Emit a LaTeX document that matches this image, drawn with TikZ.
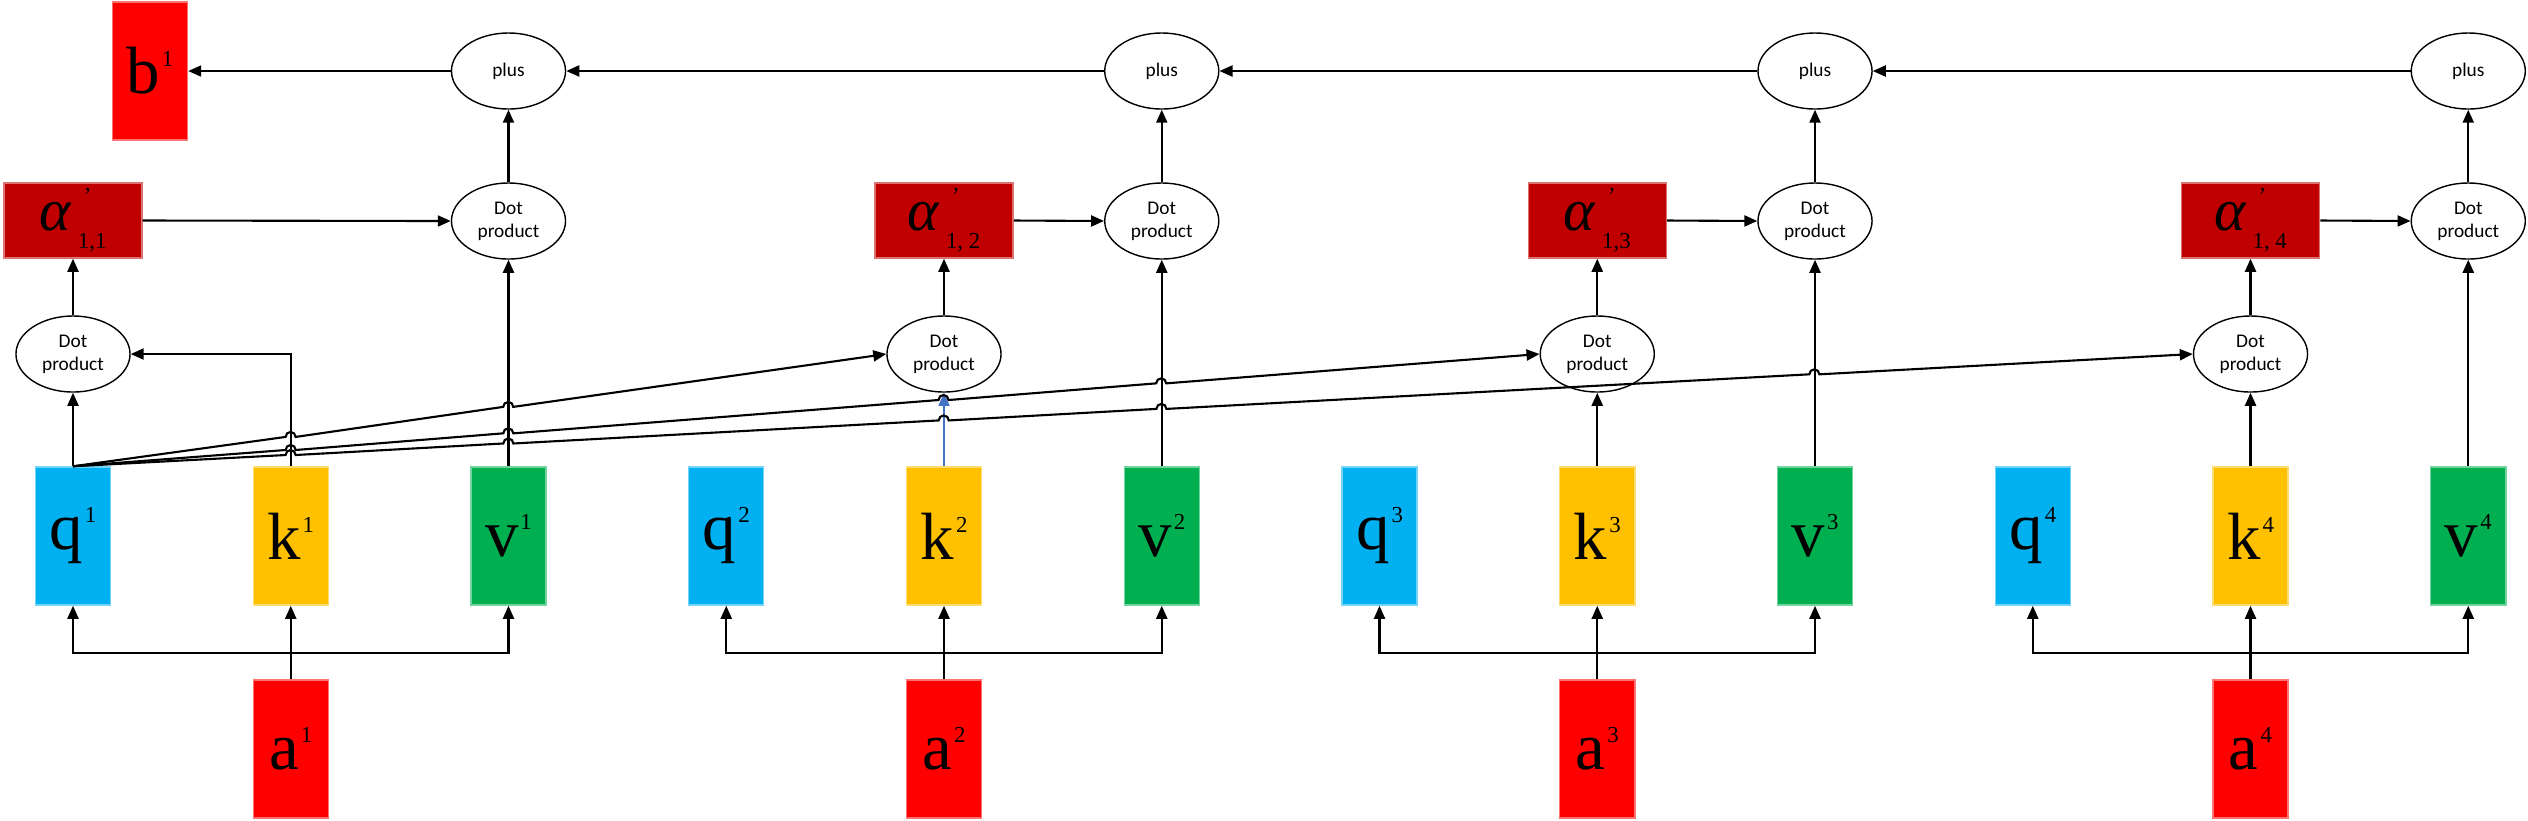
\documentclass[tikz,border=0pt]{standalone}
\usepackage{fontspec}
\setmainfont{Liberation Serif}
\newfontfamily\calfont{Carlito}
\usepackage{tikz}
\usetikzlibrary{shapes,arrows.meta,calc}
\definecolor{qblue}{HTML}{00B0F0}
\definecolor{kyellow}{HTML}{FFC000}
\definecolor{vgreen}{HTML}{00B050}
\definecolor{ared}{HTML}{FF0000}
\definecolor{alred}{HTML}{C00000}
\definecolor{kline}{HTML}{4472C4}
\newcommand{\bigfont}{\fontsize{19}{19}\selectfont}
\newcommand{\supfont}{\fontsize{6.5}{6.5}\selectfont}
\newcommand{\alfont}{\fontsize{17}{17}\selectfont\itshape}
\newcommand{\opfont}{\calfont\fontsize{5.5}{6.6}\selectfont}
\newcommand{\vlab}[2]{{\bigfont #1}\hspace{0.02cm}\raisebox{0.27cm}{\supfont #2}}
\newcommand{\alab}[1]{{\alfont α}\hspace{0.07cm}\raisebox{-0.18cm}{\supfont\rlap{\hspace{0.06cm}\raisebox{0.45cm}{'}}#1}}

\begin{document}
\begin{tikzpicture}[x=0.01cm, y=0.01cm,
vecbox/.style={draw=#1!55!white, fill=#1, line width=0.4pt, minimum width=0.75cm, minimum height=1.38cm, inner sep=0},
albox/.style={draw=alred!55!white, fill=alred, line width=0.4pt, minimum width=1.38cm, minimum height=0.75cm, inner sep=0},
opnode/.style={ellipse, draw, line width=0.4pt, minimum width=1.14cm, minimum height=0.76cm, inner sep=0, font=\opfont, align=center},
arr/.style={-{Triangle[length=0.13cm,width=0.11cm]}, line width=0.6pt}]
\useasboundingbox (0,0) rectangle (2528,-820);
%inputs
\node[vecbox=ared] (a1) at (290.75,-749) {\vlab{a}{1}};
\node[vecbox=ared] (a2) at (944,-749) {\vlab{a}{2}};
\node[vecbox=ared] (a3) at (1597.25,-749) {\vlab{a}{3}};
\node[vecbox=ared] (a4) at (2250.5,-749) {\vlab{a}{4}};
%q k v
\node[vecbox=qblue] (q1) at (73,-536) {\vlab{q}{1}};
\node[vecbox=kyellow] (k1) at (290.75,-536) {\vlab{k}{1}};
\node[vecbox=vgreen] (v1) at (508.5,-536) {\vlab{v}{1}};
\node[vecbox=qblue] (q2) at (726.25,-536) {\vlab{q}{2}};
\node[vecbox=kyellow] (k2) at (944,-536) {\vlab{k}{2}};
\node[vecbox=vgreen] (v2) at (1161.75,-536) {\vlab{v}{2}};
\node[vecbox=qblue] (q3) at (1379.5,-536) {\vlab{q}{3}};
\node[vecbox=kyellow] (k3) at (1597.25,-536) {\vlab{k}{3}};
\node[vecbox=vgreen] (v3) at (1815,-536) {\vlab{v}{3}};
\node[vecbox=qblue] (q4) at (2032.75,-536) {\vlab{q}{4}};
\node[vecbox=kyellow] (k4) at (2250.5,-536) {\vlab{k}{4}};
\node[vecbox=vgreen] (v4) at (2468.25,-536) {\vlab{v}{4}};
%scores
\node[opnode] (d1) at (73,-354) {Dot\\product};
\node[opnode] (d2) at (944,-354) {Dot\\product};
\node[opnode] (d3) at (1597.25,-354) {Dot\\product};
\node[opnode] (d4) at (2250.5,-354) {Dot\\product};
\node[albox] (al1) at (73,-220.5) {\alab{1,1}};
\node[albox] (al2) at (944,-220.5) {\alab{1, 2}};
\node[albox] (al3) at (1597.25,-220.5) {\alab{1,3}};
\node[albox] (al4) at (2250.5,-220.5) {\alab{1, 4}};
%weighted values
\node[opnode] (dv1) at (508.5,-221) {Dot\\product};
\node[opnode] (dv2) at (1161.75,-221) {Dot\\product};
\node[opnode] (dv3) at (1815,-221) {Dot\\product};
\node[opnode] (dv4) at (2468.25,-221) {Dot\\product};
\node[opnode] (p1) at (508.5,-71) {plus};
\node[opnode] (p2) at (1161.75,-71) {plus};
\node[opnode] (p3) at (1815,-71) {plus};
\node[opnode] (p4) at (2468.25,-71) {plus};
\node[vecbox=ared] (b1) at (150,-71) {\vlab{b}{1}};
%branches
\coordinate (j1) at ($(a1.north)+(0,26)$);
\coordinate (j2) at ($(a2.north)+(0,26)$);
\coordinate (j3) at ($(a3.north)+(0,26)$);
\coordinate (j4) at ($(a4.north)+(0,26)$);
\draw[arr] (a1.north) -- (k1.south);
\draw[arr] (j1) -| (q1.south);
\draw[arr] (j1) -| (v1.south);
\draw[arr] (a2.north) -- (k2.south);
\draw[arr] (j2) -| (q2.south);
\draw[arr] (j2) -| (v2.south);
\draw[arr] (a3.north) -- (k3.south);
\draw[arr] (j3) -| (q3.south);
\draw[arr] (j3) -| (v3.south);
\draw[arr] (a4.north) -- (k4.south);
\draw[arr] (j4) -| (q4.south);
\draw[arr] (j4) -| (v4.south);
%q1 against keys
\draw[arr] (q1.north) -- (d1.south);
\draw[arr] (k1.north) |- (d1.east);
\draw[arr, kline, line width=0.4pt] (k2.north) -- (d2.south);
\draw[arr] (k3.north) -- (d3.south);
\draw[arr] (k4.north) -- (d4.south);
\draw[arr] (q1.north) -- ($(q1.north)!0.2614!(d2.west)$) arc[start angle=180, end angle=0, radius=0.05cm]
  -- ($(q1.north)!0.5290!(d2.west)$) arc[start angle=180, end angle=0, radius=0.05cm] -- (d2.west);
\draw[arr] (q1.north) -- ($(q1.north)!0.1450!(d3.west)$) arc[start angle=180, end angle=0, radius=0.05cm]
  -- ($(q1.north)!0.2934!(d3.west)$) arc[start angle=180, end angle=0, radius=0.05cm]
  -- ($(q1.north)!0.5902!(d3.west)$) arc[start angle=180, end angle=0, radius=0.05cm]
  -- ($(q1.north)!0.7386!(d3.west)$) arc[start angle=180, end angle=0, radius=0.05cm] -- (d3.west);
\draw[arr] (q1.north) -- ($(q1.north)!0.1003!(d4.west)$) arc[start angle=180, end angle=0, radius=0.05cm]
  -- ($(q1.north)!0.2030!(d4.west)$) arc[start angle=180, end angle=0, radius=0.05cm]
  -- ($(q1.north)!0.4084!(d4.west)$) arc[start angle=180, end angle=0, radius=0.05cm]
  -- ($(q1.north)!0.5111!(d4.west)$) arc[start angle=180, end angle=0, radius=0.05cm]
  -- ($(q1.north)!0.8191!(d4.west)$) arc[start angle=180, end angle=0, radius=0.05cm] -- (d4.west);
%weights times values
\draw[arr] (d1.north) -- (al1.south);
\draw[arr] (d2.north) -- (al2.south);
\draw[arr] (d3.north) -- (al3.south);
\draw[arr] (d4.north) -- (al4.south);
\draw[arr] (al1.east) -- (dv1.west);
\draw[arr] (al2.east) -- (dv2.west);
\draw[arr] (al3.east) -- (dv3.west);
\draw[arr] (al4.east) -- (dv4.west);
\draw[arr] (v1.north) -- (dv1.south);
\draw[arr] (v2.north) -- (dv2.south);
\draw[arr] (v3.north) -- (dv3.south);
\draw[arr] (v4.north) -- (dv4.south);
\draw[arr] (dv1.north) -- (p1.south);
\draw[arr] (dv2.north) -- (p2.south);
\draw[arr] (dv3.north) -- (p3.south);
\draw[arr] (dv4.north) -- (p4.south);
%sum
\draw[arr] (p4.west) -- (p3.east);
\draw[arr] (p3.west) -- (p2.east);
\draw[arr] (p2.west) -- (p1.east);
\draw[arr] (p1.west) -- (b1.east);
\end{tikzpicture}
\end{document}
